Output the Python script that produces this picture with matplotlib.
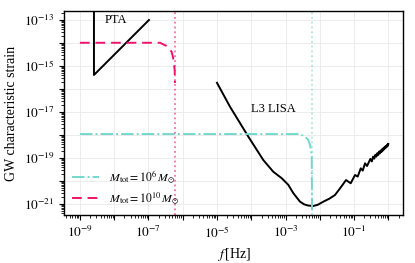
import matplotlib
matplotlib.use("Agg")
import matplotlib.pyplot as plt
import matplotlib.ticker as mticker
import numpy as np

plt.rcParams["font.family"] = ["Liberation Serif", "DejaVu Serif"]
plt.rcParams["mathtext.fontset"] = "stix"

# values, stored as log10(f [Hz]) / log10(h_c)
PTA_LOGF = [-8.59, -8.59, -6.985]
PTA_LOGH = [-12.0, -15.39, -13.0]

LISA_LOGF = [-5.0, -4.62, -4.086, -3.648, -3.356, -3.111, -2.918, -2.772, -2.577,
             -2.45, -2.334, -2.19, -2.05, -1.896, -1.72, -1.555, -1.359, -1.234,
             -1.097, -0.971, -0.893,
             -0.804, -0.746, -0.679, -0.62, -0.523, -0.48, -0.444, -0.41, -0.377,
             -0.348, -0.319, -0.293, -0.268, -0.245, -0.222, -0.201, -0.180, -0.161,
             -0.143, -0.125, -0.108, -0.092, -0.076, -0.061, -0.046, -0.032, -0.018,
             -0.009, 0.0]
LISA_LOGH = [-15.73, -16.77, -18.07, -19.09, -19.60, -19.88, -20.17, -20.53, -20.90,
             -21.02, -21.07, -21.09, -21.03, -20.90, -20.77, -20.61, -20.22, -19.96,
             -20.10, -19.74, -19.81,
             -19.45, -19.55, -19.23, -19.35, -19.04, -19.15, -18.94, -19.03, -18.86,
             -18.94, -18.79, -18.87, -18.72, -18.80, -18.67, -18.74, -18.61, -18.68,
             -18.57, -18.63, -18.52, -18.58, -18.48, -18.54, -18.45, -18.50, -18.41,
             -18.46, -18.39]

# M_tot = 1e6 Msun (cyan) and 1e10 Msun (magenta) sources
M6_LOGF = [-9.0, -2.577, -2.431, -2.334, -2.285, -2.235, -2.226]
M6_LOGH = [-17.96, -17.96, -18.07, -18.22, -18.43, -18.87, -21.30]
M10_LOGF = [-9.0, -6.664, -6.469, -6.323, -6.276, -6.235, -6.226]
M10_LOGH = [-13.99, -13.99, -14.13, -14.38, -14.67, -15.17, -15.74]
F_ISCO_6 = 5.94e-3
F_ISCO_10 = 5.94e-7

CYAN = "#72d8cc"
MAGENTA = "#f0136c"


def p(v):
    return 10.0 ** np.asarray(v)


fig = plt.figure(figsize=(4.15, 2.63), dpi=100)
ax = fig.add_axes([0.154, 0.1825, 0.818, 0.7755])

ax.plot(p(PTA_LOGF), p(PTA_LOGH), color="black", lw=1.4)
ax.plot(p(LISA_LOGF), p(LISA_LOGH), color="black", lw=1.4)
ax.plot(p(M6_LOGF), p(M6_LOGH), color=CYAN, lw=1.4, ls="-.",
        label=r"$M_{\rm tot} = 10^{6}\,M_{\odot}$")
ax.plot(p(M10_LOGF), p(M10_LOGH), color=MAGENTA, lw=1.4, ls=(0, (5, 3)),
        label=r"$M_{\rm tot} = 10^{10}\,M_{\odot}$")
ax.axvline(F_ISCO_6, color=CYAN, ls=":", lw=1.3, alpha=0.6)
ax.axvline(F_ISCO_10, color=MAGENTA, ls=":", lw=1.3, alpha=0.6)

ax.text(5.2e-9, 1.0e-13, "PTA", fontsize=9, va="center")
ax.text(9.6e-5, 1.35e-17, "L3 LISA", fontsize=9, va="center")

ax.set_xscale("log")
ax.set_yscale("log")
ax.set_xlim(10 ** -9.467, 10 ** 0.44)
ax.set_ylim(10 ** -21.48, 10 ** -12.61)


def odd_only(val, pos):
    e = int(round(np.log10(val)))
    return r"$10^{%d}$" % e if e % 2 else ""


for a in (ax.xaxis, ax.yaxis):
    a.set_major_locator(mticker.LogLocator(base=10, numticks=30))
    a.set_minor_locator(mticker.LogLocator(base=10, subs=np.arange(2, 10), numticks=30))
    a.set_major_formatter(mticker.FuncFormatter(odd_only))
    a.set_minor_formatter(mticker.NullFormatter())
ax.tick_params(which="major", labelsize=9.5, length=3.5, width=0.8)
ax.tick_params(which="minor", length=2, width=0.6)
ax.grid(True, which="major", color="#ececec", lw=0.7)
ax.set_axisbelow(True)
for s in ax.spines.values():
    s.set_linewidth(1.0)

ax.set_xlabel(r"$f\,$[Hz]", fontsize=10)
ax.set_ylabel("GW characteristic strain", fontsize=10)
ax.legend(loc="lower left", frameon=False, fontsize=8.5, handlelength=2.3,
          borderaxespad=0.3, labelspacing=0.4)

fig.savefig("out.png", dpi=100)
